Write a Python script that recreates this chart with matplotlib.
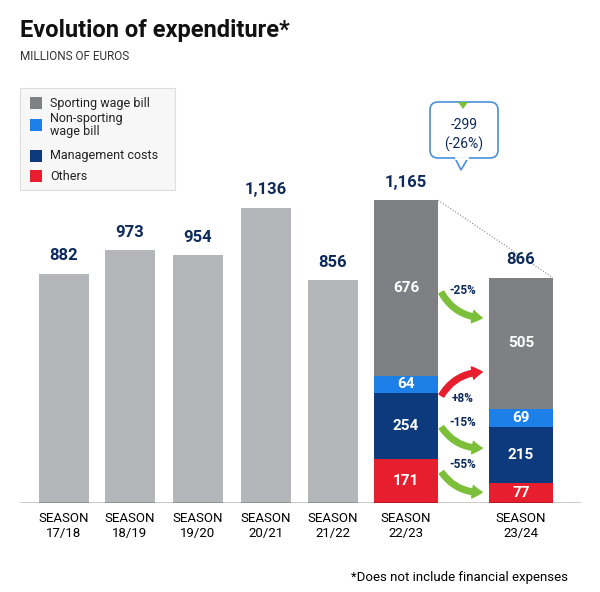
import matplotlib.pyplot as plt
from matplotlib.patches import Rectangle, FancyBboxPatch, Polygon

seasons = ["SEASON\n17/18", "SEASON\n18/19", "SEASON\n19/20", "SEASON\n20/21", "SEASON\n21/22", "SEASON\n22/23", "SEASON\n23/24"]
totals = [882, 973, 954, 1136, 856, 1165, 866]
sporting = [676, 505]
non_sporting = [64, 69]
management = [254, 215]
others = [171, 77]
changes = ["-25%", "+8%", "-15%", "-55%"]

c_light = "#b4b6b9"
c_sport = "#7e8083"
c_non = "#1d80e8"
c_man = "#0d3a7c"
c_oth = "#e61e2d"
c_green = "#7bbf3a"
navy = "#0d2a5c"

fig = plt.figure(figsize=(6, 5.92), dpi=100)
ax = fig.add_axes([0, 89 / 592, 1, 503 / 592])
S = 0.26  # px per unit
ax.set_xlim(0, 600)
ax.set_ylim(0, 503 / S)
ax.axis("off")

def v(py):
    return (503 - py) / S

xs = [64, 130, 198, 266, 333, 406, 521]
font = "Roboto"

for i in range(5):
    ax.bar(xs[i], totals[i], width=50, color=c_light)
for j, x in enumerate(xs[5:]):
    bottom = 0
    for val, col in [(others[j], c_oth), (management[j], c_man), (non_sporting[j], c_non), (sporting[j], c_sport)]:
        ax.bar(x, val, width=64, bottom=bottom, color=col)
        ax.text(x, bottom + val / 2, str(val), ha="center", va="center", color="white",
                fontsize=11, fontweight="bold", family=font)
        bottom += val

for x, t in zip(xs, totals):
    ax.text(x, t + 40, f"{t:,}", ha="center", va="bottom", color=navy, fontsize=12,
            fontweight="bold", family=font)

ax.plot([20, 580], [0, 0], color="black", lw=1)
for x, s in zip(xs, seasons):
    ax.text(x, v(512), s, ha="center", va="top", fontsize=9.5, family=font, linespacing=1.2)

# dotted connector
ax.plot([438, 553], [1165, 866], ls=":", color="#888888", lw=0.8)

# arrows
arrows = [((440, 290), (485, 318), "-25%", 290, c_green),
          ((440, 398), (485, 372), "+8%", 398, c_oth),
          ((440, 425), (485, 448), "-15%", 423, c_green),
          ((440, 470), (485, 492), "-55%", 465, c_green)]
for (p0, p1, lab, ly, col) in arrows:
    rad = -0.3 if col == c_oth else 0.3
    ax.annotate("", xy=(p1[0], v(p1[1])), xytext=(p0[0], v(p0[1])),
                arrowprops=dict(arrowstyle="simple,head_width=0.9,head_length=0.7,tail_width=0.4",
                                color=col, connectionstyle=f"arc3,rad={rad}"))
    ax.text(463, v(ly), lab, ha="center", va="center", fontsize=8.5, color=navy,
            fontweight="bold", family=font)

# callout
box = FancyBboxPatch((430, v(158)), 68, (158 - 102) / S, boxstyle="round,pad=0,rounding_size=8",
                     fc="white", ec="#4a90d9", lw=1.2, mutation_aspect=1 / S)
ax.add_patch(box)
ax.add_patch(Polygon([(455, v(158)), (468, v(158)), (461, v(170))], closed=True,
                     fc="white", ec="#4a90d9", lw=1.2))
ax.plot([456, 467], [v(158), v(158)], color="white", lw=2)
ax.add_patch(Polygon([(458, v(102)), (468, v(102)), (463, v(109))], closed=True, fc=c_green, ec="none"))
ax.text(464, v(125), "-299", ha="center", va="center", fontsize=10, color=navy, family=font)
ax.text(464, v(144), "(-26%)", ha="center", va="center", fontsize=10, color=navy, family=font)

# legend
ax.add_patch(Rectangle((20, v(190)), 155, (190 - 88) / S, fc="#f7f7f7", ec="#dddddd", lw=0.8))
leg = [(c_sport, "Sporting wage bill", 103), (c_non, "Non-sporting\nwage bill", 125),
       (c_man, "Management costs", 156), (c_oth, "Others", 176)]
for col, lab, py in leg:
    ax.add_patch(Rectangle((30, v(py + 6)), 12, 12 / S, fc=col, ec="none"))
    ax.text(50, v(py), lab, ha="left", va="center", fontsize=9, family=font, linespacing=0.95,
            color="#222222")

fig.text(20 / 600, 1 - 30 / 592, "Evolution of expenditure*", fontsize=17, fontweight="bold",
         family=font, va="center", color="#111111")
fig.text(20 / 600, 1 - 57 / 592, "MILLIONS OF EUROS", fontsize=8.5, family=font, va="center",
         color="#333333")
fig.text(568 / 600, 1 - 578 / 592, "*Does not include financial expenses", fontsize=9.5,
         family=font, ha="right", va="center")

fig.savefig("out.png", dpi=100)
